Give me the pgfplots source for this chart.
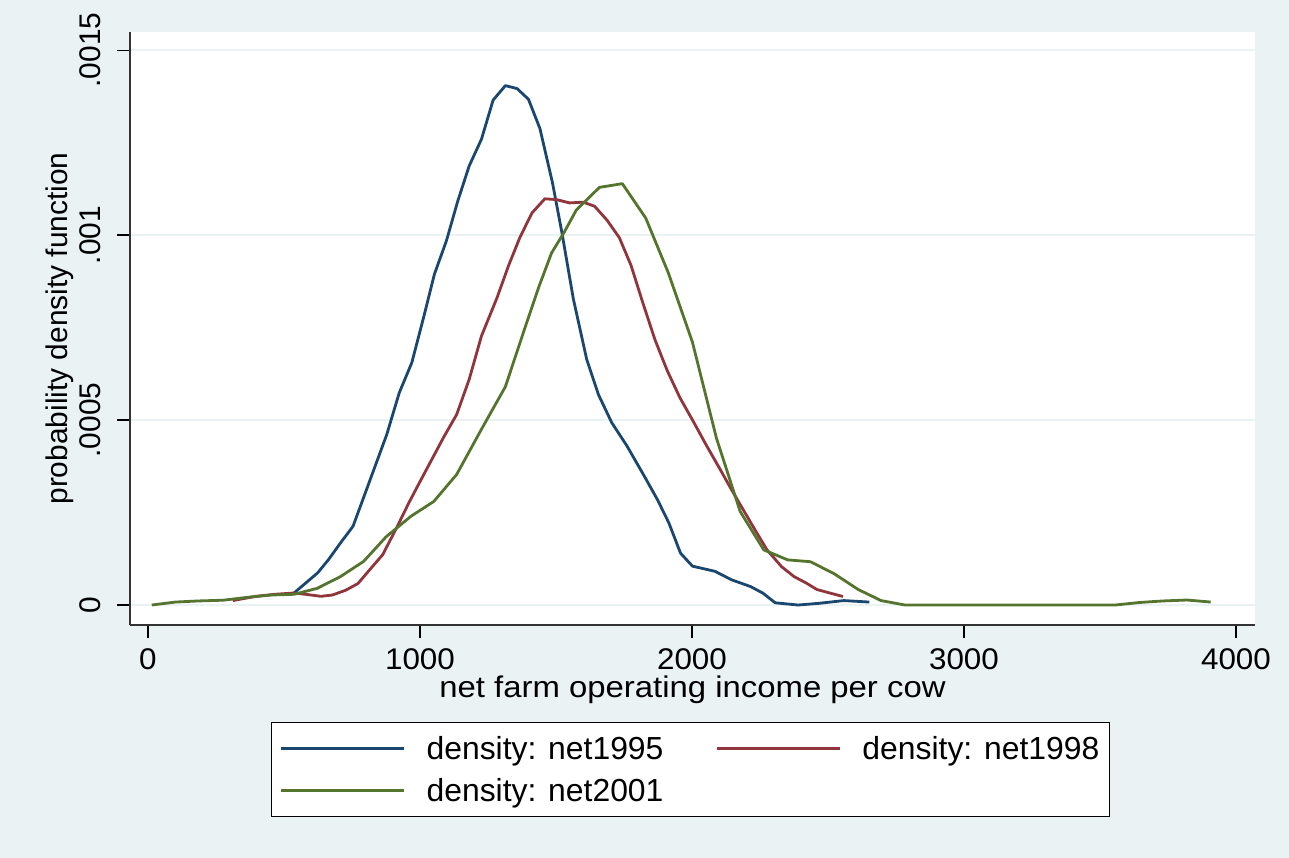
\documentclass[border=0pt]{standalone}
\usepackage{fontspec}
\setmainfont{Liberation Sans}
\newfontfamily\stretchfont[FakeStretch=1.05]{Liberation Sans}
\newfontfamily\widefont[FakeStretch=1.1]{Liberation Sans}
\usepackage{pgfplots}
\pgfplotsset{compat=1.18}
\definecolor{bgc}{RGB}{234,242,243}
\definecolor{sNavy}{RGB}{26,71,111}
\definecolor{sMaroon}{RGB}{144,53,59}
\definecolor{sGreen}{RGB}{85,117,47}
\newcommand{\bigfont}{\fontsize{32}{38}\selectfont}
\newcommand{\tickfont}{\fontsize{30}{36}\selectfont}
\begin{document}
\begin{tikzpicture}[x=1bp,y=1bp]
\fill[bgc] (0,0) rectangle (1289,858);
\begin{axis}[
 at={(130bp,233bp)}, anchor=south west,
 width=1125bp, height=593bp, scale only axis,
 xmin=-66, xmax=4070, ymin=-0.000054, ymax=0.001549,
 axis background/.style={fill=white},
 axis lines*=left,
 axis line style={line width=1.5bp, black!80},
 tick align=outside, major tick length=13bp,
 tick style={line width=1.2bp, black},
 xtick={0,1000,2000,3000,4000}, xticklabels={0,1000,2000,3000,4000},
 ytick={0,0.0005,0.001,0.0015}, yticklabels={0,.0005,.001,.0015},
 scaled y ticks=false, scaled x ticks=false,
 ymajorgrids, major grid style={bgc, line width=2.5bp},
 /pgf/number format/assume math mode=true,
 yticklabel style={font=\tickfont, inner sep=3bp, xshift=-13bp, rotate=90, anchor=south},
 xticklabel style={font=\stretchfont\tickfont, inner sep=10bp},
 xlabel={net farm operating income per cow},
 ylabel={probability density function},
 every axis x label/.style={at={(axis description cs:0.5,-0.1096)}, anchor=center, font=\widefont\tickfont},
 every axis y label/.style={at={(axis description cs:-0.062,0.5)}, rotate=90, anchor=center, font=\tickfont},
 legend columns=2,
 legend cell align=left,
 legend image code/.code={\draw[#1, line width=3bp] (0bp,0bp) -- (123bp,0bp);},
 legend style={at={(axis description cs:0.4982,-0.1636)}, anchor=north,
   draw=black, line width=1.2bp, fill=white, font=\bigfont,
   /tikz/every odd column/.append style={column sep=19bp},
   /tikz/every even column/.append style={column sep=50bp},
   row sep=13bp, inner xsep=8bp, inner ysep=12bp},
 every axis plot/.append style={line width=2.8bp, line join=round},
]
\addplot[sNavy] coordinates {(537,3.25e-5)(624,8.7e-5)(664,1.23e-4)(710,1.70e-4)(754,2.13e-4)(790,2.85e-4)(833,3.71e-4)(878,4.61e-4)(924,5.74e-4)(970,6.55e-4)(1015,7.82e-4)(1053,8.94e-4)(1097,9.84e-4)(1139,1.092e-3)(1181,1.187e-3)(1226,1.259e-3)(1269,1.365e-3)(1314,1.404e-3)(1357,1.396e-3)(1399,1.367e-3)(1441,1.288e-3)(1487,1.142e-3)(1522,1.006e-3)(1564,8.27e-4)(1613,6.64e-4)(1656,5.69e-4)(1705,4.93e-4)(1761,4.30e-4)(1825,3.48e-4)(1873,2.85e-4)(1915,2.22e-4)(1958,1.40e-4)(2002,1.05e-4)(2085,9.1e-5)(2146,6.8e-5)(2215,5.0e-5)(2261,3.2e-5)(2306,6e-6)(2390,0)(2466,4.5e-6)(2558,1.2e-5)(2652,8e-6)};
\addlegendentry{density: net1995}
\addplot[sMaroon] coordinates {(312,1.2e-5)(397,2.35e-5)(467,2.9e-5)(537,3.25e-5)(579,2.9e-5)(636,2.35e-5)(678,2.7e-5)(727,4.0e-5)(772,5.8e-5)(816,9.6e-5)(863,1.36e-4)(917,2.13e-4)(959,2.76e-4)(1004,3.39e-4)(1044,3.94e-4)(1086,4.52e-4)(1135,5.15e-4)(1181,6.1e-4)(1226,7.27e-4)(1283,8.3e-4)(1325,9.16e-4)(1367,9.93e-4)(1412,1.06e-3)(1459,1.098e-3)(1501,1.096e-3)(1550,1.087e-3)(1600,1.089e-3)(1642,1.078e-3)(1688,1.04e-3)(1733,9.93e-4)(1776,9.18e-4)(1818,8.2e-4)(1864,7.17e-4)(1910,6.32e-4)(1956,5.6e-4)(2002,5.0e-4)(2055,4.29e-4)(2101,3.7e-4)(2146,3.11e-4)(2192,2.53e-4)(2235,1.99e-4)(2276,1.49e-4)(2329,1.04e-4)(2375,7.7e-5)(2421,5.9e-5)(2459,4.2e-5)(2509,3.2e-5)(2555,2.3e-5)};
\addlegendentry{density: net1998}
\addplot[sGreen] coordinates {(14,0)(101,8e-6)(186,1.1e-5)(277,1.3e-5)(368,2.1e-5)(453,2.7e-5)(537,2.9e-5)(622,4.5e-5)(706,7.6e-5)(793,1.18e-4)(875,1.84e-4)(967,2.40e-4)(1051,2.80e-4)(1135,3.53e-4)(1226,4.75e-4)(1314,5.9e-4)(1384,7.45e-4)(1438,8.62e-4)(1484,9.52e-4)(1529,1.006e-3)(1575,1.068e-3)(1660,1.129e-3)(1744,1.139e-3)(1830,1.046e-3)(1913,8.98e-4)(2002,7.1e-4)(2090,4.51e-4)(2177,2.53e-4)(2264,1.49e-4)(2352,1.22e-4)(2436,1.17e-4)(2524,8.4e-5)(2611,4.2e-5)(2695,1.2e-5)(2783,0)(3556,0)(3648,7e-6)(3732,1.1e-5)(3820,1.35e-5)(3907,8e-6)};
\addlegendentry{density: net2001}
\end{axis}
\end{tikzpicture}
\end{document}
